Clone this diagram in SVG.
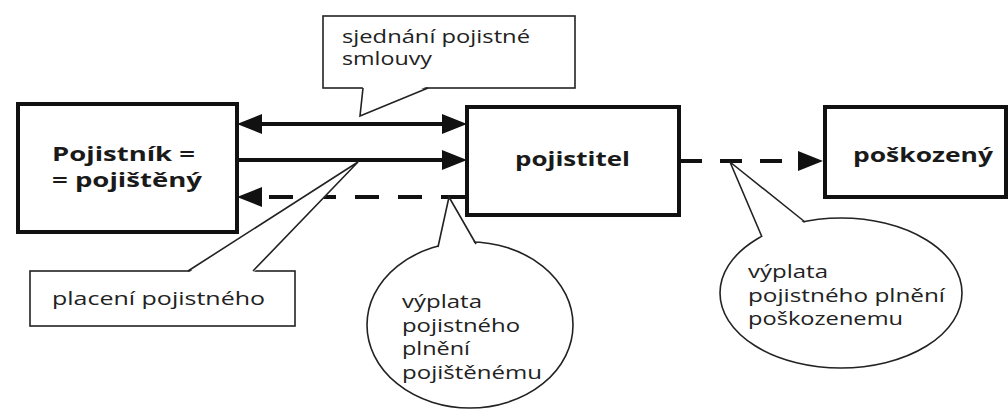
<svg xmlns="http://www.w3.org/2000/svg" width="1008" height="417" viewBox="0 0 1008 417">
<style>
.node{fill:#fff;stroke:#111;stroke-width:4}
.lbl{font-family:"Open Sans","Liberation Sans",sans-serif;font-weight:bold;font-size:20px;fill:#1a1a1a}
.co{fill:#fff;stroke:#222;stroke-width:1.6}
.cot{font-family:"Open Sans","Liberation Sans",sans-serif;font-size:18px;fill:#222}
.ln{stroke:#111;stroke-width:4;fill:none}
.dash{stroke-dasharray:24 19}
.dash2{stroke-dasharray:22 18}
.mask{fill:#fff;stroke:none}
.tail{fill:none;stroke:#222;stroke-width:1.6;stroke-linejoin:miter}
</style>
<defs>
<marker id="ah" markerUnits="userSpaceOnUse" markerWidth="26" markerHeight="22" refX="0" refY="11" orient="auto-start-reverse">
<path d="M0,1 L25,11 L0,21 z" fill="#111"/>
</marker>
</defs>
<rect width="1008" height="417" fill="#fff"/>

<g id="connectors">
<line class="ln" x1="262" y1="124" x2="442" y2="124" marker-start="url(#ah)" marker-end="url(#ah)"/>
<line class="ln" x1="237" y1="160" x2="442" y2="160" marker-end="url(#ah)"/>
<line class="ln dash" x1="465" y1="197" x2="262" y2="197" marker-end="url(#ah)"/>
<line class="ln dash2" x1="680" y1="161" x2="798" y2="161" marker-end="url(#ah)"/>
</g>

<g id="pojistnik">
<rect class="node" x="18" y="104" width="219" height="128"/>
<text class="lbl" x="52" y="161" textLength="143" lengthAdjust="spacingAndGlyphs">Pojistník =</text>
<text class="lbl" x="52" y="187" textLength="150" lengthAdjust="spacingAndGlyphs">= pojištěný</text>
</g>

<g id="pojistitel">
<rect class="node" x="467" y="107" width="212" height="108"/>
<text class="lbl" x="515" y="166" textLength="115" lengthAdjust="spacingAndGlyphs">pojistitel</text>
</g>

<g id="poskozeny">
<rect class="node" x="825" y="107" width="181" height="90"/>
<text class="lbl" x="853" y="162" textLength="140" lengthAdjust="spacingAndGlyphs">poškozený</text>
</g>

<g id="callout-sjednani">
<rect class="co" x="323" y="16" width="252" height="72"/>
<polygon class="mask" points="363,86 360,116 428,86"/>
<polyline class="tail" points="363,88 360,116 428,88"/>
<text class="cot" x="342" y="43" textLength="188" lengthAdjust="spacingAndGlyphs">sjednání pojistné</text>
<text class="cot" x="342" y="65" textLength="90" lengthAdjust="spacingAndGlyphs">smlouvy</text>
</g>

<g id="callout-placeni">
<rect class="co" x="30" y="271" width="265" height="55"/>
<polygon class="mask" points="188,273 358,162 253,273"/>
<polyline class="tail" points="188,271 358,162 253,271"/>
<text class="cot" x="52" y="305" textLength="213" lengthAdjust="spacingAndGlyphs">placení pojistného</text>
</g>

<g id="callout-vyplata-pojistenemu">
<ellipse class="co" cx="470" cy="325" rx="103" ry="83"/>
<polygon class="mask" points="438,249 449,197 476,246"/>
<polyline class="tail" points="438,247 449,197 476,244"/>
<text class="cot" x="402" y="308" textLength="80" lengthAdjust="spacingAndGlyphs">výplata</text>
<text class="cot" x="402" y="332" textLength="118" lengthAdjust="spacingAndGlyphs">pojistného</text>
<text class="cot" x="402" y="355" textLength="68" lengthAdjust="spacingAndGlyphs">plnění</text>
<text class="cot" x="402" y="379" textLength="140" lengthAdjust="spacingAndGlyphs">pojištěnému</text>
</g>

<g id="callout-vyplata-poskozenemu">
<ellipse class="co" cx="841" cy="293" rx="121" ry="75"/>
<polygon class="mask" points="762,239 730,162 805,224"/>
<polyline class="tail" points="762,237 730,162 805,222"/>
<text class="cot" x="748" y="278" textLength="80" lengthAdjust="spacingAndGlyphs">výplata</text>
<text class="cot" x="748" y="302" textLength="197" lengthAdjust="spacingAndGlyphs">pojistného plnění</text>
<text class="cot" x="748" y="325" textLength="155" lengthAdjust="spacingAndGlyphs">poškozenemu</text>
</g>
</svg>
